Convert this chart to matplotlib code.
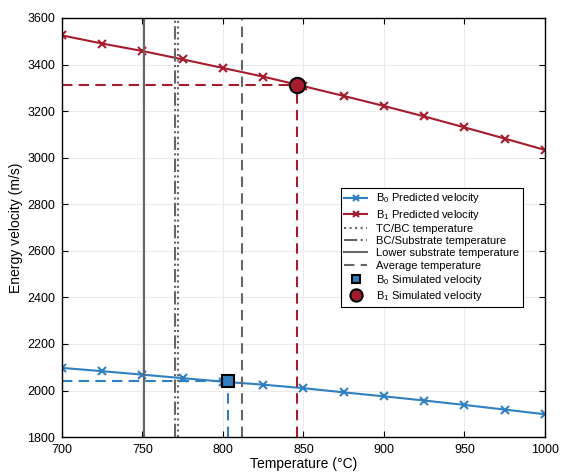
import matplotlib.pyplot as plt

plt.rcParams['font.family'] = ['Liberation Sans', 'DejaVu Sans']
plt.rcParams['mathtext.fontset'] = 'custom'
plt.rcParams['mathtext.rm'] = 'Liberation Sans'

temps = [700, 725, 750, 775, 800, 825, 850, 875, 900, 925, 950, 975, 1000]
b0_pred = [2097, 2083, 2068, 2053, 2038, 2025, 2010, 1992, 1975, 1957, 1938, 1918, 1898]
b1_pred = [3525, 3490, 3458, 3422, 3385, 3348, 3307, 3265, 3222, 3177, 3130, 3082, 3033]

t_tc_bc = 772
t_bc_sub = 770
t_lower = 751
t_avg = 812

b0_sim_t, b0_sim_v = 803, 2040
b1_sim_t, b1_sim_v = 846, 3312

blue = '#2f7fc1'
red = '#a51c2e'
gray = '#666666'

fig = plt.figure(figsize=(5.63, 4.72), dpi=100)
ax = fig.add_axes([0.110, 0.074, 0.858, 0.888])

ax.plot(temps, b0_pred, '-x', color=blue, lw=1.5, ms=6, mew=1.5, label=r'B$_0$ Predicted velocity')
ax.plot(temps, b1_pred, '-x', color=red, lw=1.5, ms=6, mew=1.5, label=r'B$_1$ Predicted velocity')
ax.axvline(t_tc_bc, color=gray, ls=':', lw=1.5, label='TC/BC temperature')
ax.axvline(t_bc_sub, color=gray, ls='-.', lw=1.5, label='BC/Substrate temperature')
ax.axvline(t_lower, color=gray, ls='-', lw=1.5, label='Lower substrate temperature')
ax.axvline(t_avg, color=gray, ls='--', lw=1.5, dashes=(5, 3), label='Average temperature')

# guide lines to the simulated points
ax.plot([700, b0_sim_t], [b0_sim_v, b0_sim_v], '--', color=blue, lw=1.5, dashes=(5, 3))
ax.plot([b0_sim_t, b0_sim_t], [1800, b0_sim_v], '--', color=blue, lw=1.5, dashes=(5, 3))
ax.plot([700, b1_sim_t], [b1_sim_v, b1_sim_v], '--', color=red, lw=1.5, dashes=(5, 3))
ax.plot([b1_sim_t, b1_sim_t], [1800, b1_sim_v], '--', color=red, lw=1.5, dashes=(5, 3))

ax.plot(b0_sim_t, b0_sim_v, 's', color=blue, mec='k', mew=1.5, ms=8, ls='none',
        label=r'B$_0$ Simulated velocity', zorder=5)
ax.plot(b1_sim_t, b1_sim_v, 'o', color=red, mec='k', mew=1.5, ms=11, ls='none',
        label=r'B$_1$ Simulated velocity', zorder=5)

ax.set_xlim(700, 1000)
ax.set_ylim(1800, 3600)
ax.set_xticks(range(700, 1001, 50))
ax.set_yticks(range(1800, 3601, 200))
ax.grid(True, color='#ebebeb', lw=0.8)
ax.set_axisbelow(True)
ax.tick_params(direction='in', top=True, right=True, labelsize=9, length=4, pad=5)
for s in ax.spines.values():
    s.set_linewidth(1.0)
ax.set_xlabel('Temperature (°C)', fontsize=10, labelpad=1)
ax.set_ylabel('Energy velocity (m/s)', fontsize=10, labelpad=3)

leg = ax.legend(loc='center right', bbox_to_anchor=(0.965, 0.453), fontsize=8,
                frameon=True, fancybox=False, edgecolor='k', framealpha=1,
                handlelength=2.0, labelspacing=0.2, borderpad=0.35, markerscale=0.8)
leg.get_frame().set_linewidth(0.8)

fig.savefig('out.png', dpi=100)
